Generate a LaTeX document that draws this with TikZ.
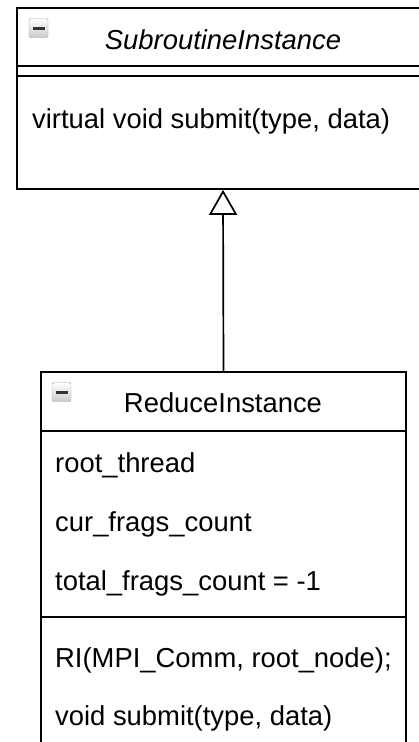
\documentclass[tikz,border=0pt]{standalone}
\usepackage{fontspec}
\setmainfont{Liberation Sans}
\usetikzlibrary{arrows.meta,positioning}

\tikzset{
  classbox/.style={draw, line width=1.7pt, inner sep=0pt},
  iconbox/.style={draw=gray!70, top color=white, bottom color=gray!40, rounded corners=1.5pt, minimum size=19pt, inner sep=0pt},
  member/.style={anchor=base west, inner sep=0pt, font=\fontsize{27.4}{32}\selectfont},
  title/.style={anchor=base, inner sep=0pt, font=\fontsize{27.4}{32}\selectfont}
}

\begin{document}
\begin{tikzpicture}[x=1pt, y=-1pt]
  \useasboundingbox (0,0) rectangle (419,742);
  \clip (0,0) rectangle (419,742);
  % abstract class
  \node[classbox, minimum width=412pt, minimum height=181pt] (subcls) at (223,98.5) {};
  \draw[line width=1.7pt] (subcls.west |- 0,66) -- (subcls.east |- 0,66);
  \draw[line width=1.7pt] (subcls.west |- 0,76) -- (subcls.east |- 0,76);
  \node[iconbox] (subicon) at (38.5,28) {};
  \draw[line width=3pt, black!80] ([xshift=-6pt]subicon.center) -- ([xshift=6pt]subicon.center);
  \node[title] (subname) at (223,49) {\itshape SubroutineInstance};
  \node[member] (subsubmit) at (32,128) {virtual void submit(type, data)};
  % derived class
  \node[classbox, minimum width=365pt, minimum height=390pt] (redcls) at (223.5,567) {};
  \draw[line width=1.7pt] (redcls.west |- 0,431) -- (redcls.east |- 0,431);
  \draw[line width=1.7pt] (redcls.west |- 0,617) -- (redcls.east |- 0,617);
  \node[iconbox] (redicon) at (61.5,392) {};
  \draw[line width=3pt, black!80] ([xshift=-6pt]redicon.center) -- ([xshift=6pt]redicon.center);
  \node[title] (redname) at (223,412) {ReduceInstance};
  \node[member] (rootthread) at (55,472) {root\_thread};
  \node[member] (curfrags) at (55,531) {cur\_frags\_count};
  \node[member] (totalfrags) at (55,590) {total\_frags\_count = -1};
  \node[member] (ctor) at (55,667) {RI(MPI\_Comm, root\_node);};
  \node[member] (redsubmit) at (55,725) {void submit(type, data)};
  % inheritance
  \draw[line width=1.7pt, -{Triangle[open, length=25pt, width=28pt, line width=1.7pt]}] (redcls.north) -- (subcls.south);
\end{tikzpicture}
\end{document}
